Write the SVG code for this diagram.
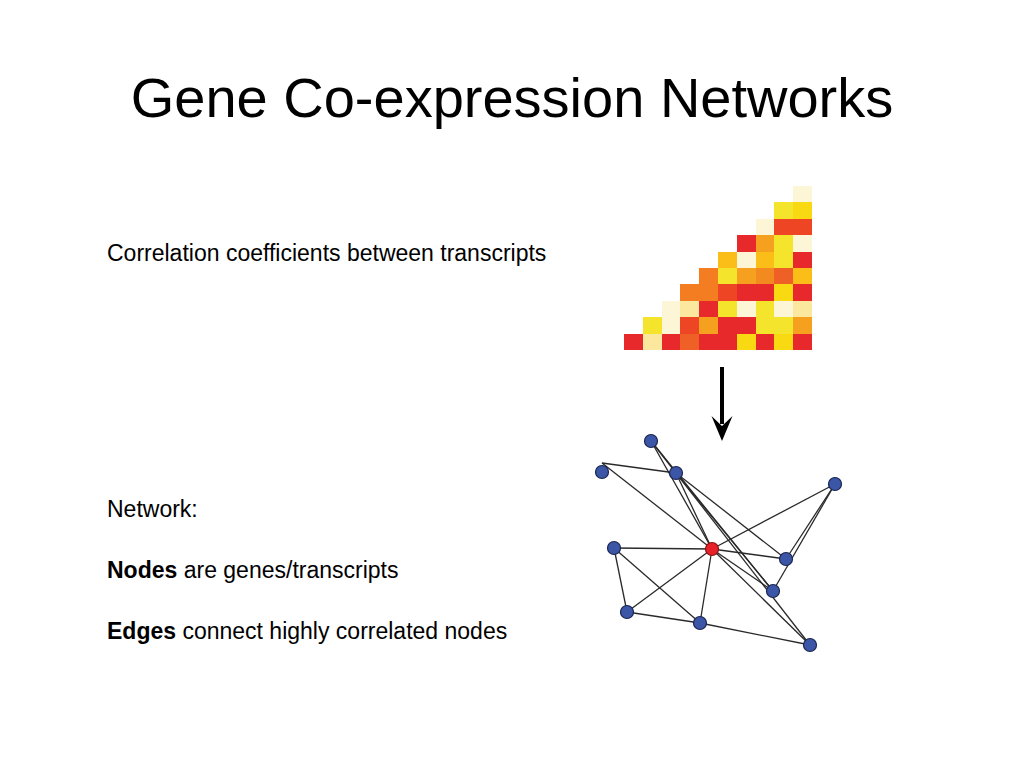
<svg xmlns="http://www.w3.org/2000/svg" width="1024" height="768" viewBox="0 0 1024 768">
<style>
text{font-family:"Liberation Sans",Arial,sans-serif;fill:#000}
.t{font-size:56px}
.b{font-size:23px}
.hm rect{width:19.1px;height:16.7px}
.R{fill:#e8292b}.RO{fill:#ee4624}.O{fill:#f47d21}.OR{fill:#ef6026}.O2{fill:#f6a01f}.O3{fill:#f38a20}
.G{fill:#fbbd18}.Y{fill:#f5e42c}.Y2{fill:#f9da12}.L{fill:#fdf6d6}.LY{fill:#fbe89e}
.e line{stroke:#2a2a2a;stroke-width:1.3}
.n{fill:#3b56a7;stroke:#1c2550;stroke-width:1.2}
.r{fill:#e8202a;stroke:#8a1111;stroke-width:1.2}
</style>
<rect width="1024" height="768" fill="#fff"/>
<text class="t" x="512" y="117" text-anchor="middle">Gene Co-expression Networks</text>
<text class="b" x="107" y="261">Correlation coefficients between transcripts</text>
<text class="b" x="107" y="517">Network:</text>
<text class="b" x="107" y="578"><tspan font-weight="bold">Nodes</tspan> are genes/transcripts</text>
<text class="b" x="107" y="639"><tspan font-weight="bold">Edges</tspan> connect highly correlated nodes</text>
<g id="heatmap" class="hm" shape-rendering="crispEdges">
<rect class="L" x="793.2" y="186"/>
<rect class="Y" x="774.4" y="202.4"/><rect class="Y2" x="793.2" y="202.4"/>
<rect class="L" x="755.6" y="218.8"/><rect class="RO" x="774.4" y="218.8"/><rect class="RO" x="793.2" y="218.8"/>
<rect class="R" x="736.8" y="235.2"/><rect class="O2" x="755.6" y="235.2"/><rect class="Y" x="774.4" y="235.2"/><rect class="L" x="793.2" y="235.2"/>
<rect class="G" x="718" y="251.6"/><rect class="L" x="736.8" y="251.6"/><rect class="G" x="755.6" y="251.6"/><rect class="Y" x="774.4" y="251.6"/><rect class="R" x="793.2" y="251.6"/>
<rect class="O" x="699.2" y="268"/><rect class="Y" x="718" y="268"/><rect class="O2" x="736.8" y="268"/><rect class="O3" x="755.6" y="268"/><rect class="OR" x="774.4" y="268"/><rect class="G" x="793.2" y="268"/>
<rect class="O" x="680.4" y="284.4"/><rect class="O" x="699.2" y="284.4"/><rect class="RO" x="718" y="284.4"/><rect class="R" x="736.8" y="284.4"/><rect class="R" x="755.6" y="284.4"/><rect class="Y2" x="774.4" y="284.4"/><rect class="R" x="793.2" y="284.4"/>
<rect class="L" x="661.6" y="300.8"/><rect class="LY" x="680.4" y="300.8"/><rect class="R" x="699.2" y="300.8"/><rect class="Y" x="718" y="300.8"/><rect class="L" x="736.8" y="300.8"/><rect class="Y" x="755.6" y="300.8"/><rect class="L" x="774.4" y="300.8"/><rect class="LY" x="793.2" y="300.8"/>
<rect class="Y" x="642.8" y="317.2"/><rect class="L" x="661.6" y="317.2"/><rect class="RO" x="680.4" y="317.2"/><rect class="O2" x="699.2" y="317.2"/><rect class="R" x="718" y="317.2"/><rect class="R" x="736.8" y="317.2"/><rect class="Y" x="755.6" y="317.2"/><rect class="Y" x="774.4" y="317.2"/><rect class="O2" x="793.2" y="317.2"/>
<rect class="R" x="624" y="333.6"/><rect class="LY" x="642.8" y="333.6"/><rect class="R" x="661.6" y="333.6"/><rect class="OR" x="680.4" y="333.6"/><rect class="R" x="699.2" y="333.6"/><rect class="R" x="718" y="333.6"/><rect class="Y2" x="736.8" y="333.6"/><rect class="R" x="755.6" y="333.6"/><rect class="Y2" x="774.4" y="333.6"/><rect class="R" x="793.2" y="333.6"/>
</g>
<g id="arrow">
<line x1="722" y1="367" x2="722" y2="424" stroke="#000" stroke-width="4"/>
<polygon points="711.5,416 722,426 732.5,416 722,441" fill="#000"/>
</g>
<g id="connectors" class="e">
<line x1="651" y1="441" x2="676" y2="473"/>
<line x1="651" y1="441" x2="712" y2="549"/>
<line x1="651" y1="441" x2="773" y2="591"/>
<line x1="602" y1="463" x2="676" y2="473"/>
<line x1="602" y1="463" x2="712" y2="549"/>
<line x1="676" y1="473" x2="712" y2="549"/>
<line x1="676" y1="473" x2="786" y2="559"/>
<line x1="676" y1="473" x2="773" y2="591"/>
<line x1="676" y1="473" x2="810" y2="645"/>
<line x1="835" y1="484" x2="712" y2="549"/>
<line x1="835" y1="484" x2="786" y2="559"/>
<line x1="835" y1="484" x2="773" y2="591"/>
<line x1="614" y1="548" x2="712" y2="549"/>
<line x1="614" y1="548" x2="627" y2="612"/>
<line x1="614" y1="548" x2="700" y2="623"/>
<line x1="712" y1="549" x2="786" y2="559"/>
<line x1="712" y1="549" x2="773" y2="591"/>
<line x1="712" y1="549" x2="810" y2="645"/>
<line x1="712" y1="549" x2="627" y2="612"/>
<line x1="712" y1="549" x2="700" y2="623"/>
<line x1="627" y1="612" x2="700" y2="623"/>
<line x1="700" y1="623" x2="810" y2="645"/>
</g>
<g id="node-A"><circle class="n" cx="651" cy="441" r="6.5"/></g>
<g id="node-B"><circle class="n" cx="602" cy="472" r="6.5"/></g>
<g id="node-C"><circle class="n" cx="676" cy="473" r="6.5"/></g>
<g id="node-D"><circle class="n" cx="835" cy="484" r="6.5"/></g>
<g id="node-E"><circle class="n" cx="614" cy="548" r="6.5"/></g>
<g id="node-F"><circle class="r" cx="712" cy="549" r="6.5"/></g>
<g id="node-G"><circle class="n" cx="786" cy="559" r="6.5"/></g>
<g id="node-H"><circle class="n" cx="773" cy="591" r="6.5"/></g>
<g id="node-I"><circle class="n" cx="627" cy="612" r="6.5"/></g>
<g id="node-J"><circle class="n" cx="700" cy="623" r="6.5"/></g>
<g id="node-K"><circle class="n" cx="810" cy="645" r="6.5"/></g>
</svg>
